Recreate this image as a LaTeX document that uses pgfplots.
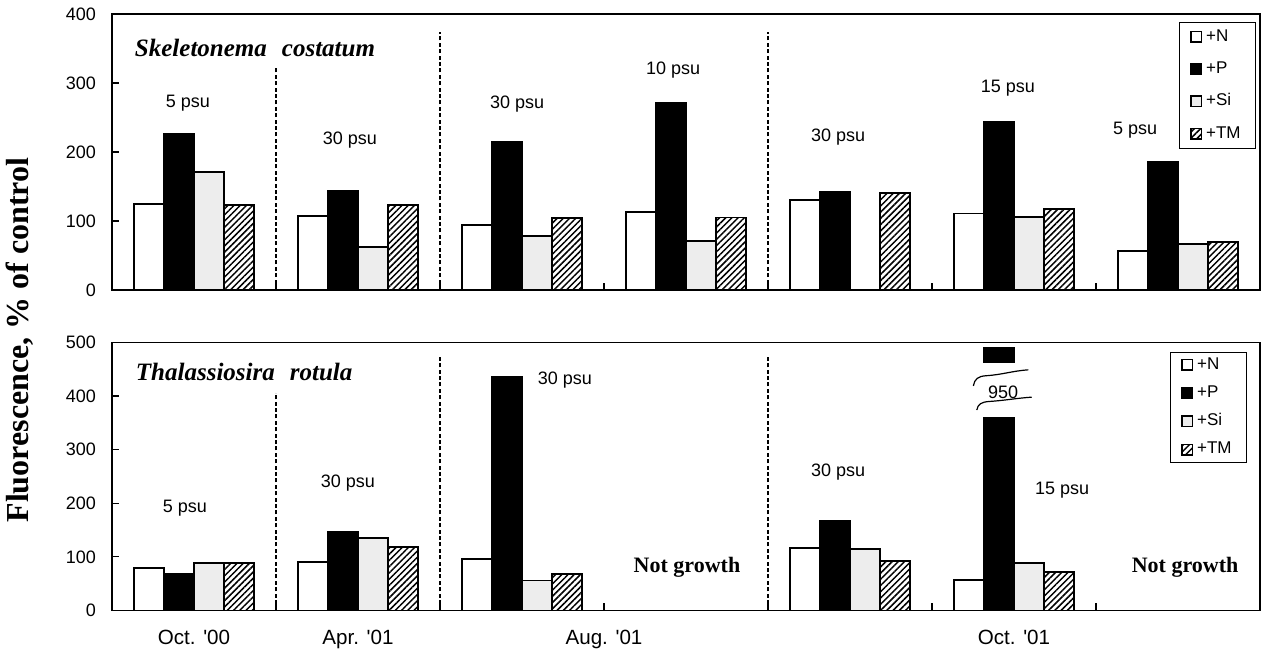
\documentclass[border=0pt]{standalone}
\usepackage{fontspec}
\setmainfont{Liberation Sans}
\newfontfamily\tnr{Liberation Serif}
\usepackage{pgfplots}
\pgfplotsset{compat=1.18}
\usetikzlibrary{patterns.meta}

\pgfplotsset{
  panel/.style={
    scale only axis, width=574pt, xmin=-0.5, xmax=6.5, ymin=0,
    ybar=0pt, bar width=15pt,
    xtick={0.5,1.5,2.5,3.5,4.5,5.5}, xticklabels={},
    xtick pos=left, ytick pos=left,
    tick align=inside,
    major tick length=3.5pt,
    tick style={line width=0.6pt, black},
    minor tick num=0,
    /pgf/number format/assume math mode=true,
    yticklabel style={font=\fontsize{9}{9}\selectfont, xshift=-4.5pt},
    axis line style={line width=0.8pt},
    axis on top, clip mode=individual,
    legend style={draw=black, line width=0.4pt, font=\fontsize{8.5}{8.5}\selectfont,
      row sep=4.7pt, inner xsep=5.5pt, inner ysep=1.5pt, legend cell align=left},
  },
  sq/.style={legend image code/.code={\draw[##1,line width=0.7pt] (0pt,-2.6pt) rectangle (5.2pt,2.6pt);}},
  Nst/.style={fill=white, draw=black, line width=0.9pt, sq},
  Pst/.style={fill=black, draw=black, line width=0.9pt, sq},
  Sist/.style={fill=black!7, draw=black, line width=0.9pt, sq},
  TMst/.style={fill=white, draw=black, line width=0.9pt,
     postaction={pattern={Lines[angle=45,distance=2.2pt,line width=0.75pt]}}, sq},
}
\tikzset{
  dsep/.style={line width=0.55pt, dash pattern=on 2pt off 1.2pt},
  psu/.style={font=\fontsize{9}{9}\selectfont},
  spec/.style={font=\tnr\bfseries\itshape\fontsize{12.5}{12.5}\selectfont, anchor=base west},
  ng/.style={font=\tnr\bfseries\fontsize{11}{11}\selectfont},
  cat/.style={font=\fontsize{10.3}{10.3}\selectfont, anchor=base, yshift=-17.25pt},
}

\begin{document}
\begin{tikzpicture}
\useasboundingbox (0,0) rectangle (630.5pt,325.5pt);

% ---------------- top panel ----------------
\begin{axis}[panel, at={(56pt,180.5pt)}, anchor=south west, height=138pt,
  ymax=400, ytick={0,100,200,300,400},
  legend style={at={(0.9965,0.971)}, anchor=north east}]
\addplot[Nst] coordinates {(0,125)(1,107)(2,94)(3,113)(4,130)(5,111)(6,57)};
\addplot[Pst] coordinates {(0,226)(1,143)(2,215)(3,271)(4,142)(5,243)(6,186)};
\addplot[Sist] coordinates {(0,171)(1,62)(2,78)(3,71)(5,106)(6,67)};
\addplot[TMst] coordinates {(0,123)(1,123)(2,104)(3,105)(4,141)(5,117)(6,70)};
\legend{+N,+P,+Si,+TM}
\draw[dsep] (axis cs:0.5,0) -- (axis cs:0.5,322);
\draw[dsep] (axis cs:1.5,0) -- (axis cs:1.5,374);
\draw[dsep] (axis cs:3.5,0) -- (axis cs:3.5,374);
\node[spec] at (axis cs:-0.403,338) {Skeletonema\hspace{0.6em}costatum};
\node[psu] at (axis cs:-0.037,271) {5 psu};
\node[psu] at (axis cs:0.951,217) {30 psu};
\node[psu] at (axis cs:1.970,270) {30 psu};
\node[psu] at (axis cs:2.921,319) {10 psu};
\node[psu] at (axis cs:3.927,222) {30 psu};
\node[psu] at (axis cs:4.963,293) {15 psu};
\node[psu] at (axis cs:5.738,232) {5 psu};
\end{axis}

% ---------------- bottom panel ----------------
\begin{axis}[panel, at={(56pt,20.25pt)}, anchor=south west, height=134pt,
  ymax=500, ytick={0,100,200,300,400,500},
  legend style={at={(0.9887,0.9646)}, anchor=north east, row sep=2.7pt, inner ysep=0.5pt}]
\addplot[Nst] coordinates {(0,79)(1,90)(2,96)(4,116)(5,57)};
\addplot[Pst] coordinates {(0,69)(1,146)(2,436)(4,168)(5,950)};
\addplot[Sist] coordinates {(0,88)(1,135)(2,56)(4,114)(5,88)};
\addplot[TMst] coordinates {(0,89)(1,118)(2,68)(4,93)(5,72)};
\legend{+N,+P,+Si,+TM}
% break in the 950 bar
\fill[white] (axis cs:4.79,361) rectangle (axis cs:5.03,462);
\fill[white] (axis cs:4.79,491) rectangle (axis cs:5.03,500);
\draw[line width=0.6pt] (axis cs:4.752,419) .. controls (axis cs:4.76,432) and (axis cs:4.78,437) .. (axis cs:4.83,438)
   .. controls (axis cs:4.93,440) and (axis cs:4.99,447) .. (axis cs:5.087,449);
\draw[line width=0.6pt] (axis cs:4.773,374) .. controls (axis cs:4.78,385) and (axis cs:4.80,389) .. (axis cs:4.85,390)
   .. controls (axis cs:4.95,392) and (axis cs:5.01,396) .. (axis cs:5.108,398);
\node[psu] at (axis cs:4.933,408) {950};
\draw[dsep] (axis cs:0.5,0) -- (axis cs:0.5,406);
\draw[dsep] (axis cs:1.5,0) -- (axis cs:1.5,473);
\draw[dsep] (axis cs:3.5,0) -- (axis cs:3.5,473);
\node[spec] at (axis cs:-0.397,430) {Thalassiosira\hspace{0.6em}rotula};
\node[psu] at (axis cs:-0.055,191) {5 psu};
\node[psu] at (axis cs:0.939,238) {30 psu};
\node[psu] at (axis cs:2.262,430) {30 psu};
\node[psu] at (axis cs:3.927,258) {30 psu};
\node[psu] at (axis cs:5.293,225) {15 psu};
\node[ng] at (axis cs:3.006,81) {Not growth};
\node[ng] at (axis cs:6.043,81) {Not growth};
% category labels
\node[cat] at (axis cs:0,0) {Oct. \textquotesingle 00};
\node[cat] at (axis cs:1,0) {Apr. \textquotesingle 01};
\node[cat] at (axis cs:2.5,0) {Aug. \textquotesingle 01};
\node[cat] at (axis cs:5,0) {Oct. \textquotesingle 01};
\end{axis}

\node[rotate=90, font=\tnr\bfseries\fontsize{16}{16}\selectfont] at (10pt,155.5pt) {Fluorescence, \% of control};
\end{tikzpicture}
\end{document}
